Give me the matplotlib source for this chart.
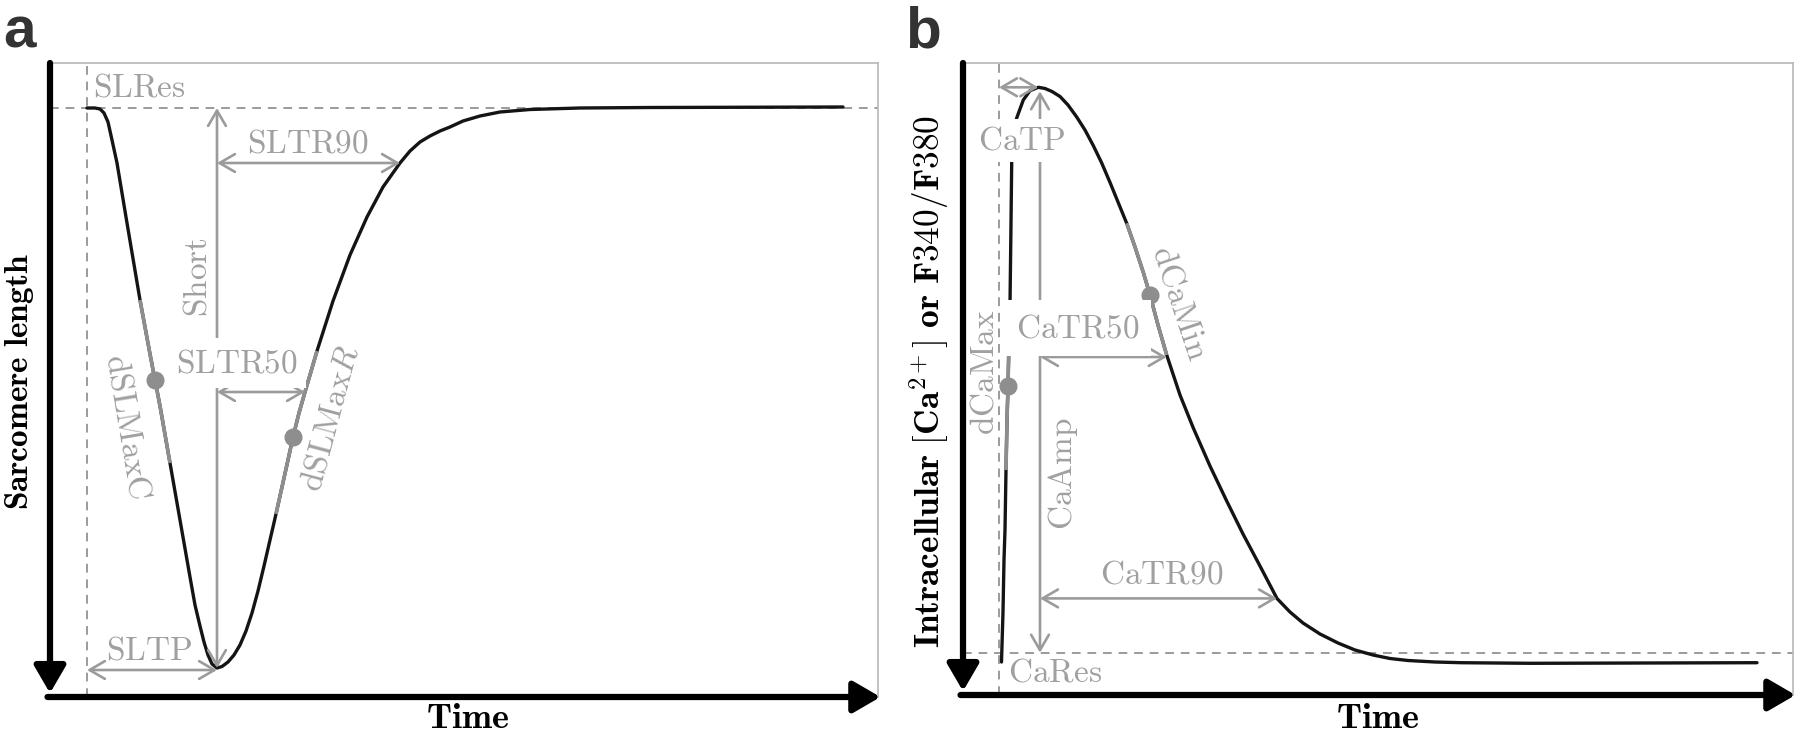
import matplotlib
matplotlib.use("Agg")
import matplotlib.pyplot as plt
import numpy as np

plt.rcParams["mathtext.fontset"] = "cm"

# panel a: sarcomere length transient (time in ms, length in a.u.)
sl_time = [37, 45, 50, 54, 58, 62, 67, 77, 90, 100, 110, 120, 130, 140, 145, 150,
           154, 158, 162, 167, 172, 178, 184, 190, 196, 202, 208, 214, 220, 226,
           232, 238, 243, 249, 255, 267, 283, 300, 317, 333, 350, 360, 370, 380,
           390, 400, 413, 430, 450, 480, 530, 600, 793]
sl_length = [589, 589, 588, 584, 575, 557, 534, 474, 397, 343, 291, 234, 177, 120, 92, 71,
             55, 42, 33, 29, 30.5, 35, 42, 52, 66, 84, 106, 131, 157, 183,
             210, 237, 260, 284, 305, 346, 396, 442, 480, 510, 534, 546, 555, 561,
             566, 570, 576, 581, 585, 587.5, 589, 589.5, 590]
sl_rest = 589
sl_start = 37
sl_peak_t, sl_peak = 167, 29
sl_tr50_level, sl_tr50_t = 305, 255
sl_tr90_level, sl_tr90_t = 534, 350
dslmaxc = (105, 317)
dslmaxr = (243, 260)
dslmaxc_span = (90, 120)
dslmaxr_span = (226, 267)

# panel b: calcium transient (time in ms, ratio in a.u.)
ca_time = [38.5, 40, 41, 42, 43, 44, 45, 46, 47, 48, 48.7, 50, 51.5, 53.7, 60.3, 67, 75.3,
           82, 89, 97, 105, 113.7, 122, 130.3, 138.7, 147, 155, 163.7, 172, 180.3, 187,
           195, 203.7, 217, 230.3, 247, 263.7, 280, 297, 314, 327, 340, 357, 375, 392,
           410, 427, 445, 472, 498, 568, 794]
ca_ratio = [33, 83, 135, 165, 225, 275, 308, 355, 390, 472, 533, 555, 567, 577, 595, 604.3, 607.7,
            606.5, 603.5, 598.5, 590, 578, 565, 549.4, 532, 512.6, 493, 471.7, 448, 422.6, 400,
            370, 340, 300, 267, 229, 194, 161, 129, 96.5, 83, 72, 61, 52, 45,
            40, 36.5, 34.5, 33, 32.3, 31.7, 32.3]
ca_rest = 42.3
ca_start = 36
ca_peak_t, ca_peak = 75.3, 607.7
ca_amp_t = 77
ca_tr50_level, ca_tr50_t = 338, 203.7
ca_tr90_level, ca_tr90_t = 96.6, 314
dcamax = (44.7, 309)
dcamin = (187, 400)
dcamax_span = (43, 47)
dcamin_span = (160, 210)

TXT = "#a0a0a0"
LN = "#9b9b9b"
HL = "#8e8e8e"
FS = 24

fig = plt.figure(figsize=(18, 7.38), dpi=100)
ax_a = fig.add_axes([50 / 1800, 41 / 738, 828 / 1800, 634 / 738])
ax_b = fig.add_axes([963 / 1800, 43 / 738, 830 / 1800, 632 / 738])


def frame(ax, w, h):
    ax.set_xlim(0, w)
    ax.set_ylim(0, h)
    ax.set_xticks([])
    ax.set_yticks([])
    for s in ["left", "bottom"]:
        ax.spines[s].set_visible(False)
    for s in ["top", "right"]:
        ax.spines[s].set_color("#b8b8b8")
        ax.spines[s].set_linewidth(1.2)
    head = "-|>,head_length=0.55,head_width=0.32"
    ax.annotate("", xy=(0, 0.006), xytext=(0, 1.0), xycoords="axes fraction",
                arrowprops=dict(arrowstyle=head, lw=4.5, color="k", shrinkA=0, shrinkB=0,
                                mutation_scale=30))
    ax.annotate("", xy=(1.003, 0), xytext=(-0.003, 0), xycoords="axes fraction",
                arrowprops=dict(arrowstyle=head, lw=4.5, color="k", shrinkA=0, shrinkB=0,
                                mutation_scale=30))


def darrow(ax, p0, p1, style="<->"):
    ax.annotate("", xy=p1, xytext=p0, zorder=4,
                arrowprops=dict(arrowstyle=style + ",head_length=0.55,head_width=0.32",
                                color=LN, lw=1.9, shrinkA=0, shrinkB=0, mutation_scale=20))


def label(ax, x, y, s, rot=0, box=None):
    t = ax.text(x, y, s, fontsize=FS, color=TXT, ha="center", va="center",
                rotation=rot, rotation_mode="anchor", zorder=6)
    if box is not None:
        t.set_bbox(dict(boxstyle="square,pad=%g" % box, fc="white", ec="none"))
    return t


def trace(ax, t, v, spans):
    t = np.array(t)
    v = np.array(v)
    ax.plot(t, v, color="#141414", lw=2.4, solid_capstyle="round", zorder=3)
    for t0, t1 in spans:
        m = (t >= t0) & (t <= t1)
        ax.plot(t[m], v[m], color=HL, lw=2.6, solid_capstyle="butt", zorder=3.5)


# ---- panel a ----
frame(ax_a, 828, 634)
ax_a.axhline(sl_rest, color=LN, lw=1.4, dashes=(4.5, 3.5), zorder=1)
ax_a.axvline(sl_start, color=LN, lw=1.4, dashes=(4.5, 3.5), zorder=1)
trace(ax_a, sl_time, sl_length, [dslmaxc_span, dslmaxr_span])
ax_a.plot(*dslmaxc, "o", ms=12, color=HL, zorder=5)
ax_a.plot(*dslmaxr, "o", ms=12, color=HL, zorder=5)

darrow(ax_a, (sl_peak_t, sl_peak), (sl_peak_t, sl_rest))
darrow(ax_a, (sl_start, sl_peak - 2), (sl_peak_t, sl_peak - 2))
darrow(ax_a, (sl_peak_t, sl_tr50_level), (sl_tr50_t, sl_tr50_level))
darrow(ax_a, (sl_peak_t, sl_tr90_level), (sl_tr90_t, sl_tr90_level))

ax_a.text(43, 610, r"$\mathrm{SLRes}$", fontsize=FS, color=TXT, ha="left", va="center", zorder=6)
label(ax_a, 147, 420, r"$\mathrm{Short}$", rot=90)
label(ax_a, 258, 554, r"$\mathrm{SLTR90}$")
label(ax_a, 187, 334, r"$\mathrm{SLTR50}$", box=0.25)
label(ax_a, 99, 47, r"$\mathrm{SLTP}$")
label(ax_a, 78, 271, r"$\mathrm{dSLMaxC}$", rot=-80.5)
label(ax_a, 280, 279, r"$\mathrm{dSLMax}R$", rot=75)

# ---- panel b ----
frame(ax_b, 830, 632)
ax_b.axhline(ca_rest, color=LN, lw=1.4, dashes=(4.5, 3.5), zorder=1)
ax_b.axvline(ca_start, color=LN, lw=1.4, dashes=(4.5, 3.5), zorder=1)
trace(ax_b, ca_time, ca_ratio, [dcamax_span, dcamin_span])
ax_b.plot(*dcamax, "o", ms=12, color=HL, zorder=5)
ax_b.plot(*dcamin, "o", ms=12, color=HL, zorder=5)

darrow(ax_b, (ca_amp_t, ca_rest), (ca_amp_t, ca_peak - 4))
darrow(ax_b, (ca_start, ca_peak), (ca_peak_t, ca_peak))
darrow(ax_b, (ca_amp_t, ca_tr50_level), (ca_tr50_t, ca_tr50_level))
darrow(ax_b, (ca_amp_t, ca_tr90_level), (ca_tr90_t, ca_tr90_level))

label(ax_b, 58.7, 555, r"$\mathrm{CaTP}$", box=0.15)
label(ax_b, 115, 367, r"$\mathrm{CaTR50}$", box=0.35)
label(ax_b, 100, 221, r"$\mathrm{CaAmp}$", rot=90)
label(ax_b, 199, 121, r"$\mathrm{CaTR90}$")
label(ax_b, 92, 23, r"$\mathrm{CaRes}$")
label(ax_b, 21, 323, r"$\mathrm{dCaMax}$", rot=90)
label(ax_b, 217, 392, r"$\mathrm{dCaMin}$", rot=-71.5)

# ---- figure labels ----
fig.text(20 / 1800, 1 - 382 / 738, r"$\mathbf{Sarcomere\ length}$", fontsize=24,
         rotation=90, ha="center", va="center")
fig.text(930 / 1800, 1 - 382 / 738, r"$\mathbf{Intracellular\ [Ca^{2+}]\ or\ F340/F380}$",
         fontsize=25.5, rotation=90, ha="center", va="center")
fig.text(468 / 1800, 1 - 718 / 738, r"$\mathbf{Time}$", fontsize=26, ha="center", va="center")
fig.text(1378 / 1800, 1 - 718 / 738, r"$\mathbf{Time}$", fontsize=26, ha="center", va="center")
fig.text(3 / 1800, 1 - 47 / 738, "a", fontsize=42, fontweight="bold",
         family="Liberation Sans", color="#333333", ha="left", va="baseline")
fig.text(905 / 1800, 1 - 47 / 738, "b", fontsize=42, fontweight="bold",
         family="Liberation Sans", color="#333333", ha="left", va="baseline")

fig.savefig("out.png", dpi=100, facecolor="white")
